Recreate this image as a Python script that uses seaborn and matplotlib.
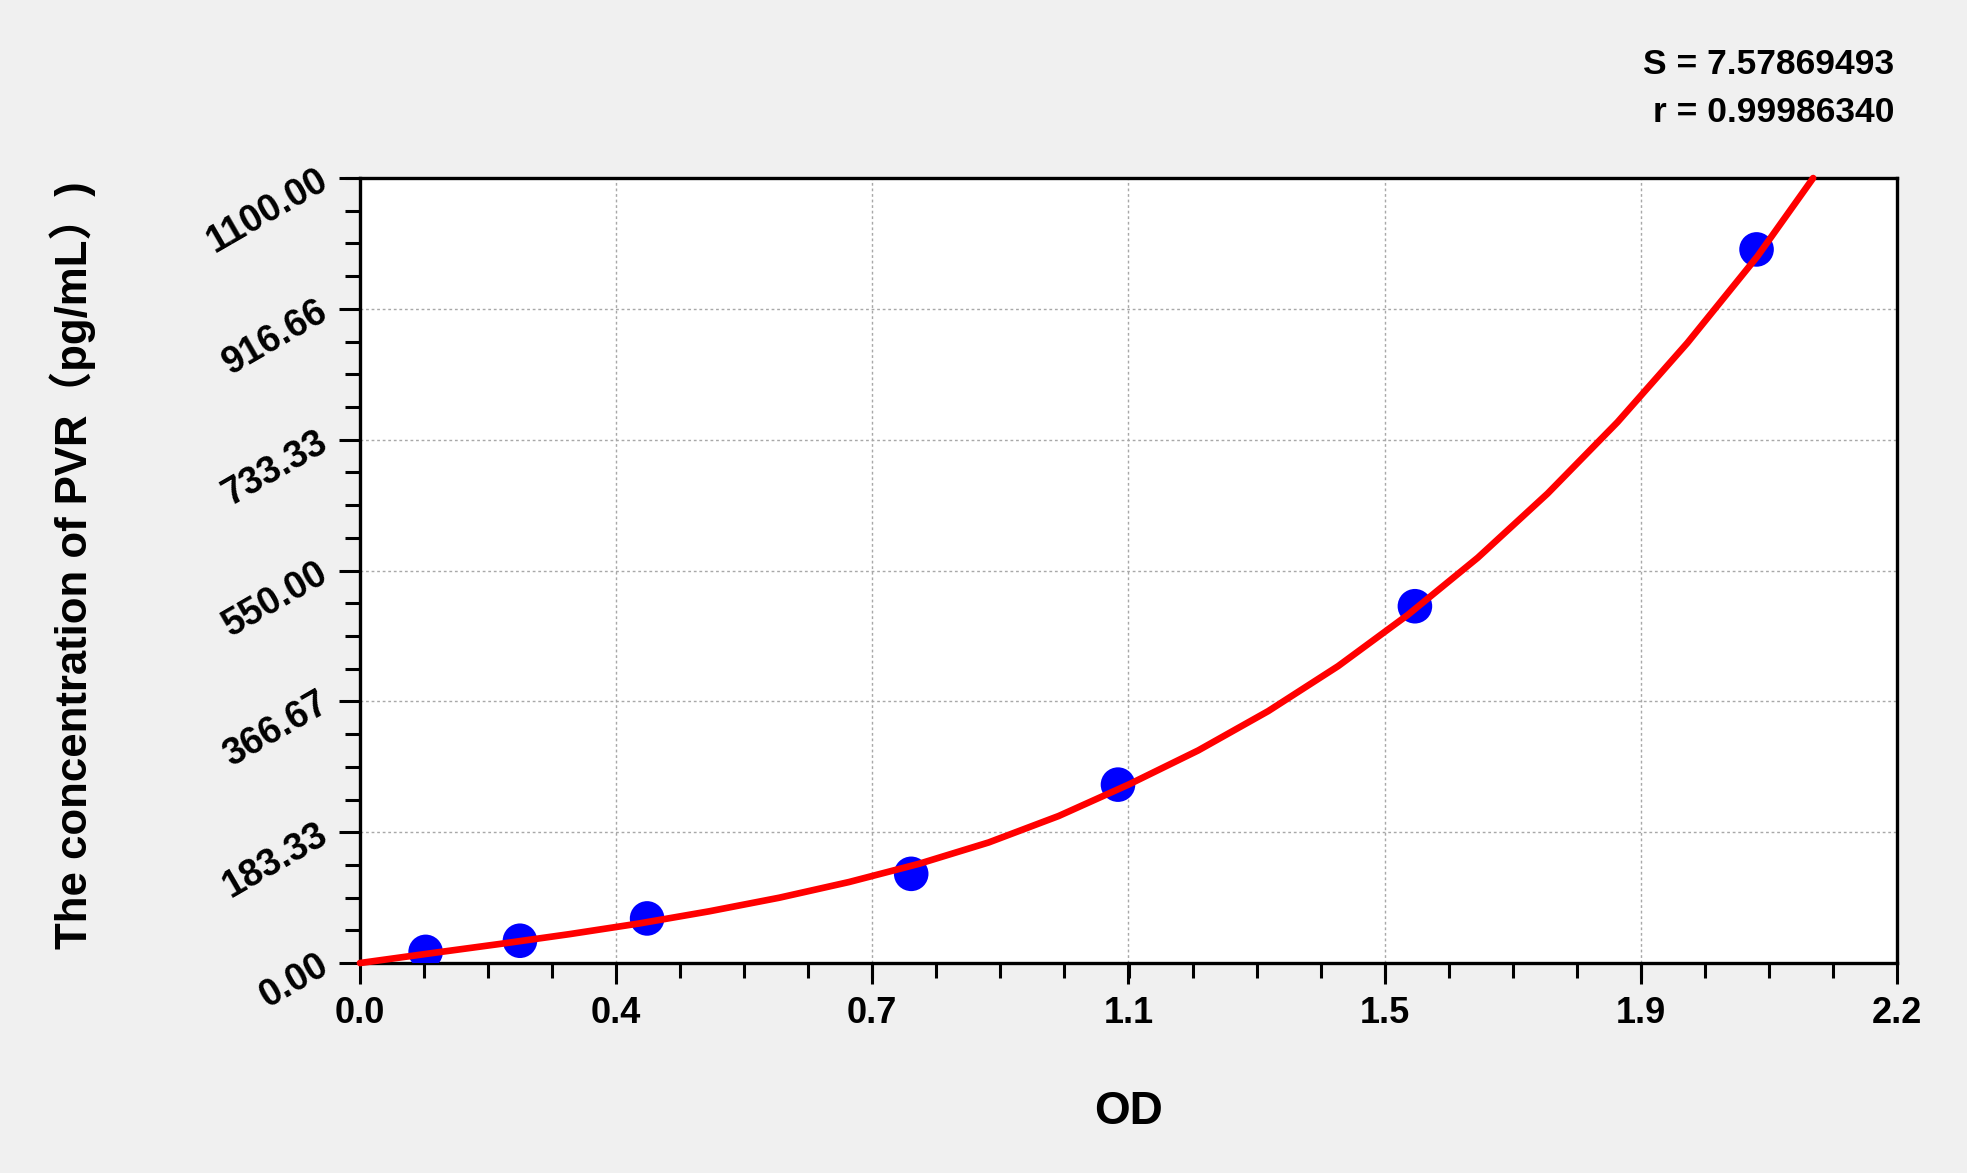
import matplotlib
matplotlib.use('Agg')
import matplotlib.pyplot as plt
import seaborn as sns
from matplotlib.ticker import AutoMinorLocator

# standard points (OD vs concentration)
od = [0.094, 0.229, 0.411, 0.789, 1.085, 1.510, 1.999]
conc = [15.63, 31.25, 62.5, 125.0, 250.0, 500.0, 1000.0]

# fitted curve
curve_od = [0.0, 0.1, 0.2, 0.3, 0.4, 0.5, 0.6, 0.7, 0.8, 0.9, 1.0,
            1.1, 1.2, 1.3, 1.4, 1.5, 1.6, 1.7, 1.8, 1.9, 2.0, 2.08]
curve_conc = [0, 13.5, 26.7, 40.5, 55.5, 72.5, 91.5, 113.5, 139, 169, 206,
              250, 298, 353, 416, 488, 568, 658, 758, 869, 990, 1100]

x_ticks = [0.0, 0.3667, 0.7333, 1.1, 1.4667, 1.8333, 2.2]
x_tick_labels = ['0.0', '0.4', '0.7', '1.1', '1.5', '1.9', '2.2']
y_ticks = [0, 183.33, 366.67, 550, 733.33, 916.66, 1100]
y_tick_labels = ['0.00', '183.33', '366.67', '550.00', '733.33', '916.66', '1100.00']

s_text = 'S = 7.57869493'
r_text = 'r = 0.99986340'

sns.set_style('white')
plt.rcParams['font.family'] = ['Liberation Sans', 'Noto Sans CJK SC', 'DejaVu Sans']
plt.rcParams['text.color'] = 'black'
plt.rcParams['axes.labelcolor'] = 'black'
plt.rcParams['xtick.color'] = 'black'
plt.rcParams['ytick.color'] = 'black'

fig = plt.figure(figsize=(19.67, 11.73), dpi=100, facecolor='#f0f0f0')
ax = fig.add_axes([0.183, 0.179, 0.7814, 0.6692])
ax.set_facecolor('white')

sns.scatterplot(x=od, y=conc, s=620, color='#0000ff', edgecolor='none',
                ax=ax, zorder=3, legend=False)
sns.lineplot(x=curve_od, y=curve_conc, color='#ff0000', lw=4.8, ax=ax,
             zorder=4, sort=False, estimator=None)
for ln in ax.lines:
    ln.set_clip_on(False)
    ln.set_solid_capstyle('round')
    ln.set_solid_joinstyle('round')

ax.set_xlim(0, 2.2)
ax.set_ylim(0, 1100)

ax.set_axisbelow(True)
ax.grid(True, which='major', color='#a8a8a8', linestyle=(0, (2, 2)), lw=1)

for sp in ax.spines.values():
    sp.set_color('black')
    sp.set_linewidth(2.4)

ax.set_xticks(x_ticks)
ax.set_xticklabels(x_tick_labels, fontsize=26, fontweight='bold')
ax.set_yticks(y_ticks)
ax.set_yticklabels(y_tick_labels, fontsize=27, fontweight='bold', rotation=30,
                   rotation_mode='anchor', ha='right', va='center')
ax.xaxis.set_minor_locator(AutoMinorLocator(4))
ax.yaxis.set_minor_locator(AutoMinorLocator(4))
ax.tick_params(which='both', bottom=True, left=True, top=False, right=False,
               direction='out', color='black', width=2.2)
ax.tick_params(which='major', length=15)
ax.tick_params(which='minor', length=10.5)
ax.tick_params(axis='x', which='major', pad=9)
ax.tick_params(axis='y', which='major', pad=10)

ax.set_xlabel('OD', fontsize=33, fontweight='bold')
ax.xaxis.set_label_coords(0.5, -0.19)
ax.xaxis.label.set_va('center')

ax.set_ylabel('The concentration of PVR（pg/mL）)', fontsize=31.5, fontweight='bold')
ax.yaxis.set_label_coords(-0.187, 0.507)
ax.yaxis.label.set_va('center')
ax.yaxis.label.set_ha('center')

fig.text(0.963, 0.9454, s_text, ha='right', va='center', fontsize=25.5, fontweight='bold')
fig.text(0.963, 0.9045, r_text, ha='right', va='center', fontsize=25.5, fontweight='bold')

fig.savefig('out.png', dpi=100, facecolor=fig.get_facecolor())
